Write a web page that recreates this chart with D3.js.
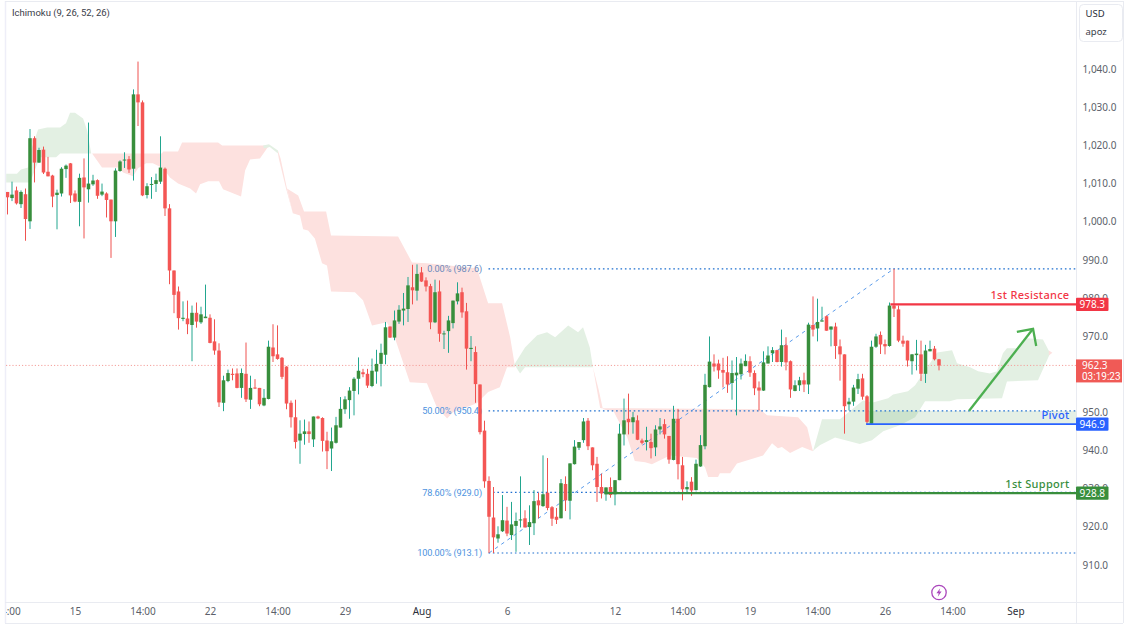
<!DOCTYPE html>
<html>
<head>
<meta charset="utf-8">
<script src="https://cdn.jsdelivr.net/npm/d3@7/dist/d3.min.js"></script>
<style>
html,body{margin:0;padding:0;background:#fff;}
svg{display:block;font-family:"Noto Sans","Open Sans",sans-serif;}
</style>
</head>
<body>
<svg id="chart" width="1129" height="631"></svg>
<script>
// Four-hour candles
const opens = [
1007.8,1006.2,1008.2,1004.6,1007.2,1000.1,1021.9,1015.5,1018.9,1013.1,
1012.1,1007.0,1007.4,1013.8,1015.3,1007.4,1005.2,1011.6,1008.5,1009.8,
1010.9,1007.1,1007.4,1005.8,1000.1,1013.3,1016.1,1016.4,1013.9,1033.4,
1031.3,1007.0,1009.8,1009.9,1010.5,1013.9,1003.5,987.2,981.7,974.5,
974.6,972.9,976.1,973.6,974.7,974.8,968.6,966.2,952.5,958.2,
960.1,960.2,956.4,960.1,953.3,956.5,956.4,951.8,953.5,967.0,
965.2,964.3,962.0,952.5,948.7,942.6,944.3,945.0,942.9,948.9,
948.5,942.6,940.5,942.0,946.0,950.8,953.2,955.6,958.8,960.5,
960.1,956.9,960.7,962.7,965.1,972.5,969.6,973.8,976.7,977.1,
982.8,981.9,986.7,984.6,983.1,973.6,981.7,970.5,971.3,973.4,
979.1,981.5,976.5,966.6,965.8,957.3,945.2,932.0,922.4,916.9,
918.8,921.6,917.8,920.2,921.7,922.2,919.9,920.9,926.9,925.4,
928.9,925.1,922.6,922.2,931.2,926.8,936.4,940.7,942.7,947.8,
940.8,936.5,930.4,928.5,930.4,928.5,932.2,944.2,948.3,947.4,
947.9,942.6,942.2,942.2,940.8,945.5,946.9,943.8,937.5,948.3,
936.1,929.8,931.8,929.6,935.8,941.1,956.6,962.8,962.8,961.1,
960.5,957.7,959.7,960.0,962.1,963.4,960.3,956.5,955.7,962.8,
965.5,966.3,963.2,967.6,963.4,955.6,957.1,958.4,957.3,972.9,
972.0,973.8,975.2,971.7,972.5,967.3,965.2,952.1,952.8,956.2,
958.9,954.2,947.0,967.2,970.3,967.9,967.4,978.0,977.0,968.8,
968.8,963.4,965.0,965.2,960.1,966.0,966.7,963.9];
const highs = [
1007.8,1010.5,1009.2,1008.2,1008.7,1024.3,1022.4,1019.4,1019.7,1017.0,
1012.3,1008.4,1014.3,1015.0,1015.4,1008.2,1012.6,1016.6,1026.0,1012.3,
1011.1,1010.0,1007.7,1005.8,1014.0,1016.1,1018.2,1017.2,1034.7,1042.0,
1031.8,1010.1,1011.7,1012.6,1022.4,1014.2,1004.6,987.2,983.0,979.1,
979.3,978.0,978.8,977.7,983.5,975.7,974.4,968.1,959.6,961.2,
961.5,961.5,961.5,968.3,959.6,958.7,956.4,956.1,968.8,973.1,
972.8,964.5,962.1,953.1,953.3,947.9,948.1,947.6,948.9,949.1,
948.7,944.9,946.0,948.8,954.0,954.2,956.6,959.2,964.4,961.4,
961.4,964.1,966.4,968.0,973.7,972.5,976.7,978.1,981.3,985.5,
988.7,988.8,988.1,985.4,983.7,984.8,984.6,971.4,975.3,979.3,
984.1,982.7,978.7,970.0,967.3,957.3,947.8,933.2,930.4,920.1,
928.3,925.2,926.5,923.7,933.2,924.3,925.6,929.6,928.9,938.7,
938.0,925.4,924.9,932.5,933.2,936.6,942.7,942.2,948.5,948.5,
940.8,938.3,933.9,930.3,932.9,932.2,947.0,953.6,954.9,950.1,
949.2,943.1,946.2,944.4,946.6,948.5,948.2,943.8,951.7,950.9,
938.3,931.9,933.0,937.6,944.0,960.1,969.9,965.2,963.8,964.3,
964.7,963.6,964.5,964.1,965.2,964.7,961.0,958.1,966.0,967.3,
967.1,966.4,971.7,969.7,963.6,958.4,959.3,960.4,973.5,980.4,
979.8,977.7,975.4,972.5,973.5,969.1,965.2,953.8,957.2,960.1,
960.1,954.5,968.8,970.6,971.2,969.1,978.8,987.6,978.0,970.1,
968.8,965.3,969.0,968.8,967.7,968.8,967.4,964.0];
const lows = [
1001.9,1005.4,1004.5,1003.6,995.0,998.1,1010.3,1015.4,1012.5,1011.9,
1003.8,998.0,1006.6,1011.5,1004.9,1005.1,998.8,995.6,1005.0,1009.4,
1006.0,1006.7,1001.1,990.5,996.0,1013.1,1014.1,1012.8,1010.8,1025.1,
1006.7,1006.1,1006.0,1007.8,1009.9,1001.5,983.6,976.0,971.7,973.9,
970.5,963.4,972.2,973.2,974.7,968.1,965.1,951.4,950.3,957.9,
958.4,956.3,953.8,952.7,950.9,956.1,951.6,951.6,953.4,963.2,
963.8,958.7,950.8,946.0,940.5,936.5,941.5,942.0,940.9,948.2,
939.7,935.1,934.6,941.8,946.0,949.6,948.3,949.2,954.7,959.2,
956.4,956.6,957.5,956.8,962.6,969.5,968.9,973.2,972.8,973.7,
978.3,979.3,984.2,981.7,971.8,973.4,968.5,966.6,965.6,972.0,
978.3,974.8,961.2,963.4,952.5,944.2,930.2,913.1,913.1,915.8,
918.6,917.5,916.5,913.4,919.8,919.8,915.2,917.8,922.2,925.2,
924.3,920.2,920.7,922.2,924.1,921.9,936.3,940.1,942.0,940.1,
934.8,926.5,927.4,926.8,927.6,925.6,932.2,941.3,944.2,944.4,
942.7,941.6,940.0,937.9,938.5,944.2,943.1,936.5,937.4,932.4,
926.9,928.7,928.1,929.5,935.7,940.3,956.5,960.7,958.8,956.5,
955.1,953.3,949.2,958.6,962.1,959.3,954.5,950.5,955.6,962.8,
963.2,963.1,962.0,961.0,953.8,955.5,955.6,955.3,954.8,969.9,
968.6,973.8,971.4,967.3,964.0,958.3,944.4,950.5,951.7,954.8,
953.3,947.0,947.0,966.9,965.3,965.2,967.2,975.0,968.4,967.2,
962.0,959.9,961.0,958.2,957.7,966.0,963.6,961.0];
const closes = [
1006.4,1007.1,1004.8,1007.8,1000.7,1021.9,1015.5,1018.8,1012.9,1011.9,
1006.6,1007.6,1013.9,1014.7,1006.9,1005.3,1011.5,1009.0,1010.0,1010.8,
1006.8,1007.9,1005.7,1000.1,1013.4,1015.8,1016.3,1013.7,1033.4,1031.3,
1006.9,1009.3,1009.9,1010.9,1014.2,1003.5,987.2,980.8,974.7,974.8,
973.1,976.1,973.8,975.7,975.1,968.2,966.2,952.6,958.4,960.3,
959.8,956.4,960.3,953.4,956.4,956.3,952.1,953.8,967.2,964.7,
964.0,959.3,952.3,948.7,942.2,944.4,945.0,944.3,948.9,948.4,
942.5,939.8,942.4,946.6,950.9,953.4,955.7,958.8,960.9,960.0,
957.0,960.9,962.7,965.6,972.3,969.6,974.1,976.9,977.2,983.3,
982.0,986.3,984.3,983.0,973.6,981.5,970.6,970.7,974.1,979.3,
981.2,976.2,966.7,966.9,957.4,944.8,931.9,922.6,917.2,918.0,
921.7,918.2,920.6,921.5,921.9,919.8,921.2,926.7,925.6,928.5,
924.9,922.1,921.8,931.4,926.9,936.6,941.0,942.2,947.6,941.1,
936.1,930.4,928.7,930.3,928.3,932.2,944.4,947.9,947.4,948.7,
942.8,942.0,942.7,940.6,945.5,946.3,944.2,937.6,948.3,936.4,
929.8,930.4,929.5,936.5,941.4,957.2,963.3,962.0,961.0,960.4,
957.3,960.3,960.4,962.8,963.5,960.4,956.3,955.7,963.1,964.9,
966.3,963.2,967.6,963.1,956.0,957.1,958.4,957.3,973.0,971.7,
973.7,974.1,971.4,972.5,967.4,965.2,951.6,952.8,956.5,958.7,
954.1,947.5,967.2,969.9,967.8,967.3,978.0,977.2,968.8,968.0,
963.6,965.2,965.4,960.1,966.2,966.6,963.9,962.3];

// Ichimoku cloud twists as [bar, price] outlines
const greenTwist1 = [[-0.3,1012.6],[2.1,1012.6],[3,1013.7],[4.6,1014.2],[5.2,1018.7],[6.8,1024.2],[8.8,1024.7],[11.7,1024.7],[13,1025.8],[13.9,1028.6],[15,1028.6],[16.8,1027.1],[17.7,1023.9],[18.6,1017.9],[11.7,1017.9],[10.8,1016.9],[7.2,1016.9],[5,1010.3],[-0.3,1010.3]];
const redTwist1 = [[18.8,1017.9],[34.3,1017.9],[34.6,1018.4],[37.9,1018.4],[38.8,1020.8],[46.8,1020.8],[47.7,1020],[56.8,1020],[58.1,1020],[56.1,1016.6],[53.9,1016.3],[52.8,1013.4],[51.9,1006.6],[47.9,1008.5],[47,1010.6],[44.6,1010.6],[42.8,1009.8],[41.9,1007.4],[40.6,1008.7],[37.9,1010],[36.1,1011.6],[34.6,1014],[32.3,1015.3],[30.8,1015.3],[29,1014],[27.9,1011.9],[25.7,1012.9],[24.6,1014.2],[21,1014.2]];
const greenTwist2 = [[56.8,1020],[58.1,1020.3],[60.1,1018.7],[60.1,1017.9],[58.3,1019.6],[57,1019.2]];
const redSliver = [[60.1,1018.7],[60.7,1016.5],[62.1,1008.7],[63.4,1002.2],[61.9,1008.7],[60.3,1016.5],[60.1,1017.9]];
const redTwist2 = [[62.1,1008.7],[64.6,1006.9],[65.9,1002.7],[70.8,1002.7],[71.9,996.4],[86.8,996.1],[89.9,989.3],[93.2,989.1],[104.3,987.8],[106.8,978.6],[109.9,978.6],[111.7,969.7],[112.8,961.8],[111,961.8],[109.4,956.6],[106.8,955.3],[104.3,952.4],[99,950],[97.7,948.4],[95.4,951.3],[93.2,957.6],[89.4,957.9],[86.1,969.4],[84.3,973.6],[81,972.8],[79,979.4],[77.2,981.5],[71.9,981.7],[71,988.5],[69.9,989.1],[68.3,995.6],[66.8,997.7],[65.7,998],[65,1001.6],[63.4,1002.2]];
const greenTwist3 = [[112.1,961.8],[112.8,962.9],[115,967],[117.7,970.2],[119.9,971],[121.7,969.7],[124.6,972.8],[126.8,971],[127.9,972.3],[129.4,967],[130.1,961.8],[115,961.8],[113.9,960.2],[112.8,962.3]];
const redTwist3 = [[130.1,961.8],[131,955.8],[131.7,951.1],[167.2,950.8],[168.8,949.2],[175.7,948.7],[177.7,946.1],[179,939.8],[176.6,940.9],[173.9,939.3],[172.1,940.9],[171.2,940.6],[169.9,941.9],[167.9,938.7],[162.1,936.6],[160.6,934],[158.3,934],[157.9,933],[155.7,933],[155,935.6],[153.2,938],[147.2,938.7],[143.2,936.4],[141.7,936.9],[139.4,937.2],[137.7,943.5],[135.7,947.9],[134.6,950.5],[133.4,950.5],[132.3,950.9],[131.4,955.8]];
const greenTwist4 = [[179,939.8],[181,948.2],[185,948.2],[190.1,953.1],[192.3,952.6],[195.7,953.7],[196.8,954.7],[200.1,955.5],[201.7,957.1],[206.6,965.7],[209.9,966.3],[211,962.9],[213.9,961.8],[215.7,960.8],[218.3,960.2],[219.9,960.8],[221.2,965.5],[222.1,966.8],[224.6,966.8],[226.6,969.4],[230.1,969.1],[231.7,965.5],[229,958.4],[222.1,958.1],[221,953.7],[211,953.4],[209.4,952.9],[203.9,952.9],[201.7,948.7],[198.3,946.6],[194.6,945],[192.1,942.7],[189.4,941.7],[183.9,943.4],[180.6,941.4],[179.4,940.3]];
const redTwist4 = [[231.4,966.2],[232.2,965.6],[231.4,964.9]];

// Fibonacci retracement of the August swing
const fibLabels = ["0.00% (987.6)","50.00% (950.4)","78.60% (929.0)","100.00% (913.1)"];
const fibPrices = [987.6,950.35,929.0,913.1];
const fibStartBars = [107,107,108,107];

// Key levels
const levelNames = ["1st Resistance","Pivot","1st Support"];
const levelPrices = [978.3,946.9,928.8];
const levelStartBars = [196.2,190.8,132.7];
const levelColors = ["#f23645","#2962ff","#388e3c"];
const levelTextDy = [-5.5,-5,-5.5];

// Price and time axes
const priceTicks = [1040,1030,1020,1010,1000,990,980,970,960,950,940,930,920,910];
const timeTickBars = [0,15,30,45,60,75,92,111,135,150,165,180,195,210,224];
const timeTickLabels = ["14:00","15","14:00","22","14:00","29","Aug","6","12","14:00","19","14:00","26","14:00","Sep"];

const lastPrice = 962.3;
const countdown = "03:19:23";
const arrowShaft = [[213.7,950.4],[227.9,971.9]];
const arrowHead = [[224.3,971.1],[227.9,971.9],[228.6,967.4]];

const width = 1129, height = 631;
const plotLeft = 6, plotRight = 1076.5, axisBottomY = 602.5;

const x = d3.scaleLinear().domain([0,207]).range([7.5,939]);
const y = d3.scaleLinear().domain([910,1040]).range([564.8,69.2]);

const svg = d3.select("#chart");
svg.append("defs").append("clipPath").attr("id","plot-clip")
  .append("rect").attr("x",plotLeft).attr("y",0).attr("width",plotRight-plotLeft).attr("height",axisBottomY);
svg.append("defs").append("clipPath").attr("id","time-clip")
  .append("rect").attr("x",plotLeft).attr("y",axisBottomY).attr("width",plotRight-plotLeft).attr("height",22);

// Pane frame
const frame = svg.append("g").attr("stroke","#e9ebf1").attr("stroke-width",1);
frame.append("line").attr("x1",5.5).attr("x2",5.5).attr("y1",1).attr("y2",623).attr("stroke","#eeeef8").attr("stroke-width",1.5);
frame.append("line").attr("x1",5).attr("x2",1123).attr("y1",1.5).attr("y2",1.5);
frame.append("line").attr("x1",1076.5).attr("x2",1076.5).attr("y1",1).attr("y2",623);
frame.append("line").attr("x1",1123.5).attr("x2",1123.5).attr("y1",1).attr("y2",623);
frame.append("line").attr("x1",5).attr("x2",1123).attr("y1",axisBottomY).attr("y2",axisBottomY);
frame.append("line").attr("x1",5).attr("x2",1123).attr("y1",623.5).attr("y2",623.5);

const plot = svg.append("g").attr("clip-path","url(#plot-clip)");

// Cloud
const outline = d3.line().x(d=>x(d[0])).y(d=>y(d[1])).curve(d3.curveLinear);
const cloudGreen = "#e3f0e3", cloudRed = "#fde1df";
[[greenTwist1,cloudGreen],[redTwist1,cloudRed],[greenTwist2,cloudGreen],[redSliver,cloudRed],[redTwist2,cloudRed],
 [greenTwist3,cloudGreen],[redTwist3,cloudRed],[greenTwist4,cloudGreen],[redTwist4,cloudRed]]
 .forEach(([pts,fill])=>plot.append("path").attr("d",outline(pts)+"Z").attr("fill",fill));

// Pivot zone up to the 50% retracement
plot.append("rect")
  .attr("x",x(levelStartBars[1])).attr("width",plotRight-x(levelStartBars[1]))
  .attr("y",y(fibPrices[1])).attr("height",y(levelPrices[1])-y(fibPrices[1]))
  .attr("fill","#388e3c").attr("fill-opacity",0.13);

// Last price line
plot.append("line").attr("x1",plotLeft).attr("x2",plotRight).attr("y1",y(lastPrice)).attr("y2",y(lastPrice))
  .attr("stroke","#f4a09c").attr("stroke-dasharray","1.2,2").attr("stroke-width",1);

// Fibonacci levels and their captions
const fibColor = "#1e6fd0";
plot.selectAll("line.fib").data(fibPrices).join("line").attr("class","fib")
  .attr("x1",(d,i)=>x(fibStartBars[i])-0.5).attr("x2",plotRight)
  .attr("y1",d=>y(d)).attr("y2",d=>y(d))
  .attr("stroke",fibColor).attr("stroke-width",1.2).attr("stroke-dasharray","1.6,2.8");
plot.selectAll("text.fib").data(fibLabels).join("text").attr("class","fib")
  .attr("x",482).attr("y",(d,i)=>y(fibPrices[i])+3.5)
  .attr("text-anchor","end").attr("font-size",9.2).attr("font-family","Roboto,sans-serif")
  .attr("letter-spacing",-0.12)
  .attr("fill",(d,i)=>i===0?"#6888bb":"#4d93e0").text(d=>d);

// Diagonal of the retracement
plot.append("line")
  .attr("x1",x(107)).attr("y1",y(913.1)).attr("x2",x(196.9)).attr("y2",y(987.6))
  .attr("stroke","#5c9ceb").attr("stroke-width",1).attr("stroke-dasharray","3.5,4");

// Candles
const bars = d3.range(opens.length).map(i=>({i,o:opens[i],h:highs[i],l:lows[i],c:closes[i],up:closes[i]>=opens[i]}));
const candle = plot.append("g").selectAll("g").data(bars).join("g");
candle.append("line")
  .attr("x1",d=>x(d.i)).attr("x2",d=>x(d.i))
  .attr("y1",d=>y(d.h)).attr("y2",d=>y(d.l))
  .attr("stroke",d=>d.up?"#22a68f":"#ef5350").attr("stroke-width",1);
candle.append("rect")
  .attr("x",d=>x(d.i)-1.75).attr("width",3.5)
  .attr("y",d=>y(Math.max(d.o,d.c)))
  .attr("height",d=>Math.max(1,Math.abs(y(d.o)-y(d.c))))
  .attr("fill",d=>d.up?"#388e3c":"#f45654");

// Support, pivot and resistance
plot.selectAll("line.level").data(levelPrices).join("line").attr("class","level")
  .attr("x1",(d,i)=>x(levelStartBars[i])).attr("x2",plotRight)
  .attr("y1",d=>y(d)).attr("y2",d=>y(d))
  .attr("stroke",(d,i)=>levelColors[i]).attr("stroke-width",(d,i)=>i===1?1.6:2.4);
plot.selectAll("text.level").data(levelNames).join("text").attr("class","level")
  .attr("x",1069.5).attr("y",(d,i)=>y(levelPrices[i])+levelTextDy[i])
  .attr("text-anchor","end").attr("font-size",11).attr("font-weight",500).attr("letter-spacing",0.3)
  .attr("fill",(d,i)=>levelColors[i]).text(d=>d);

// Projected move
const lineThrough = d3.line().x(d=>x(d[0])).y(d=>y(d[1]));
plot.append("path").attr("d",lineThrough(arrowShaft)).attr("fill","none").attr("stroke","#4caf50").attr("stroke-width",2.3);
plot.append("path").attr("d",lineThrough(arrowHead)).attr("fill","none").attr("stroke","#4caf50").attr("stroke-width",2.3);

// Price axis
const priceAxis = d3.axisRight(y).tickValues(priceTicks).tickSize(0).tickPadding(0).tickFormat(d3.format(",.1f"));
const gPrice = svg.append("g").attr("transform",`translate(${plotRight+6},0)`).call(priceAxis);
gPrice.select(".domain").remove();
gPrice.selectAll("text").attr("font-size",10).attr("fill","#5c5f6a").attr("font-family",'"Noto Sans",sans-serif');

// Time axis
const timeAxis = d3.axisBottom(x).tickValues(timeTickBars).tickSize(0).tickPadding(0)
  .tickFormat(d=>timeTickLabels[timeTickBars.indexOf(d)]);
const gTime = svg.append("g").attr("clip-path","url(#time-clip)").append("g").attr("transform",`translate(0,${axisBottomY+5})`).call(timeAxis);
gTime.select(".domain").remove();
gTime.selectAll("text").attr("font-size",10).attr("font-family",'"Noto Sans",sans-serif')
  .attr("fill",d=>{const t=timeTickLabels[timeTickBars.indexOf(d)];return (t==="Aug"||t==="Sep")?"#2a2e39":"#5c5f6a";});

// Price tags
const tagWidth = 32.5;
levelPrices.forEach((p,i)=>{
  const g = svg.append("g");
  g.append("rect").attr("x",1076).attr("width",tagWidth).attr("y",y(p)-6.7).attr("height",13.4).attr("rx",1).attr("fill",levelColors[i]);
  g.append("text").attr("x",1076+tagWidth/2).attr("y",y(p)+3.6).attr("text-anchor","middle").attr("font-size",10).attr("fill","#fff").text(d3.format(".1f")(p));
});
const lastTag = svg.append("g");
lastTag.append("rect").attr("x",1076).attr("width",46).attr("y",y(lastPrice)-6).attr("height",23).attr("fill","#f05a56");
lastTag.append("text").attr("x",1082).attr("y",y(lastPrice)+3.8).attr("font-size",10).attr("fill","#fff").text(d3.format(".1f")(lastPrice));
lastTag.append("text").attr("x",1082).attr("y",y(lastPrice)+14.5).attr("font-size",10).attr("font-family","Roboto,sans-serif").attr("fill","#fff").text(countdown);

// Currency and scale mode box
svg.append("rect").attr("x",1079.5).attr("y",4.5).attr("width",43).attr("height",37).attr("rx",4)
  .attr("fill","#fff").attr("stroke","#e9ebf1");
svg.append("text").attr("x",1085.5).attr("y",17).attr("font-size",9.5).attr("fill","#2a2e39").text("USD");
svg.append("text").attr("x",1085.5).attr("y",35).attr("font-size",9.5).attr("fill","#3a3e49").text("apoz");

// Indicator legend
svg.append("text").attr("x",12).attr("y",16).attr("font-size",9.5).attr("font-family","Roboto,sans-serif").attr("fill","#3a3e49").text("Ichimoku (9, 26, 52, 26)");

// Economic event marker
const eventMark = svg.append("g").attr("transform","translate(939,592.5)");
eventMark.append("circle").attr("r",7.2).attr("fill","#fff").attr("stroke","#ab47bc").attr("stroke-width",1.3);
eventMark.append("path").attr("d","M1.2,-4.2 L-2.6,0.8 L-0.3,0.8 L-1.2,4.2 L2.6,-0.9 L0.3,-0.9 Z").attr("fill","#ab47bc");
</script>
</body>
</html>
